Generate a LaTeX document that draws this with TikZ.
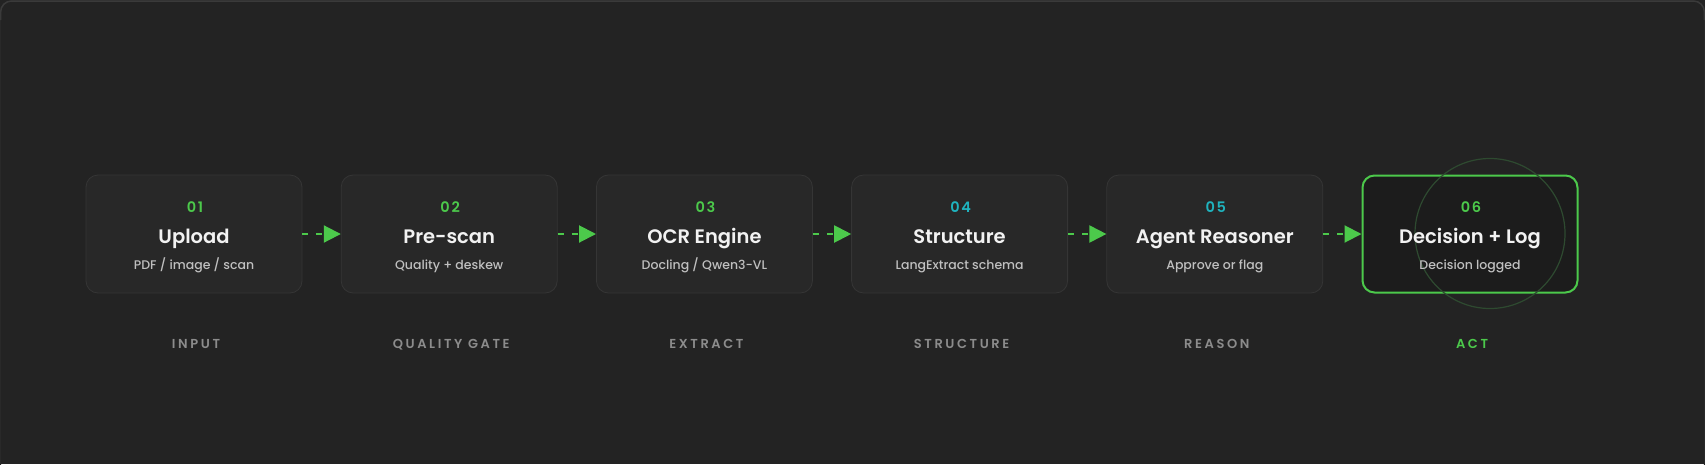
\documentclass[tikz,border=0pt]{standalone}
\usepackage{fontspec}
\setmainfont{Poppins}
\newfontfamily\pmed{Poppins Medium}
\newfontfamily\psemi{Poppins SemiBold}
\usetikzlibrary{arrows.meta}
\definecolor{bg}{HTML}{232323}
\definecolor{frame}{HTML}{292929}
\definecolor{frametop}{HTML}{3A3A3A}
\definecolor{boxfill}{HTML}{282828}
\definecolor{boxline}{HTML}{353535}
\definecolor{actfill}{HTML}{1C1C1C}
\definecolor{grn}{HTML}{4CC94B}
\definecolor{cyn}{HTML}{1FB3BE}
\definecolor{ttl}{HTML}{F2F2F2}
\definecolor{sub}{HTML}{C0C0C0}
\definecolor{lbl}{HTML}{8C8C8C}
\definecolor{ring}{HTML}{2E4A30}
\tikzset{
  stepbox/.style={draw=boxline, line width=0.8pt, fill=boxfill, rounded corners=12pt,
    minimum width=216pt, minimum height=118pt, inner sep=0pt},
  actbox/.style={draw=grn, line width=2pt, fill=actfill, rounded corners=12pt,
    minimum width=215pt, minimum height=117pt, inner sep=0pt},
  numtxt/.style={font=\psemi\fontsize{14.5}{14.5}\selectfont\addfontfeatures{LetterSpace=12}, anchor=base},
  ttltxt/.style={font=\psemi\fontsize{19.5}{19.5}\selectfont, text=ttl, anchor=base},
  subtxt/.style={font=\pmed\fontsize{12.5}{12.5}\selectfont, text=sub, anchor=base},
  lbltxt/.style={font=\psemi\fontsize{13}{13}\selectfont\addfontfeatures{LetterSpace=20}, text=lbl, anchor=base},
  flow/.style={draw=grn, line width=2pt, dash pattern=on 6pt off 8pt,
    -{Triangle[length=17pt,width=17pt]}, shorten >=0pt},
}
\begin{document}
\begin{tikzpicture}[x=1pt,y=-1pt]
\useasboundingbox (0,0) rectangle (1705,464);
\fill[bg] (0,0) rectangle (1705,464);
\draw[frame, line width=1.2pt, rounded corners=11pt] (0.6,1) rectangle (1704.4,480);
\draw[frametop, line width=1.5pt, rounded corners=11pt] (0.6,20) -- (0.6,1) -- (1704.4,1) -- (1704.4,20);
\foreach \i/\num/\col/\ttl/\sub/\lab in {
  0/01/grn/Upload/{PDF / image / scan}/INPUT,
  1/02/grn/Pre-scan/{Quality + deskew}/QUALITY GATE,
  2/03/grn/OCR Engine/{Docling / Qwen3-VL}/EXTRACT,
  3/04/cyn/Structure/{LangExtract schema}/STRUCTURE,
  4/05/cyn/Agent Reasoner/{Approve or flag}/REASON}{
  \pgfmathsetmacro{\cx}{194+255.2*\i}
  \node[stepbox] (b\i) at (\cx,234) {};
  \node[numtxt, text=\col] (n\i) at (\cx+1,212) {\num};
  \node[ttltxt] (t\i) at (\cx,243) {\ttl};
  \node[subtxt] (s\i) at (\cx,269) {\sub};
  \node[lbltxt] (l\i) at (\cx+2,348) {\lab};
}
\node[actbox] (b5) at (1470,234) {};
\draw[ring, line width=1.2pt] (1490,233.5) circle (75);
\node[numtxt, text=grn] (n5) at (1471,212) {06};
\node[ttltxt] (t5) at (1470,243) {Decision + Log};
\node[subtxt] (s5) at (1470,269) {Decision logged};
\node[lbltxt, text=grn] (l5) at (1472,348) {ACT};
\foreach \a/\b in {0/1,1/2,2/3,3/4,4/5}{
  \draw[flow] (b\a.east) -- (b\b.west);
}
\end{tikzpicture}
\end{document}
